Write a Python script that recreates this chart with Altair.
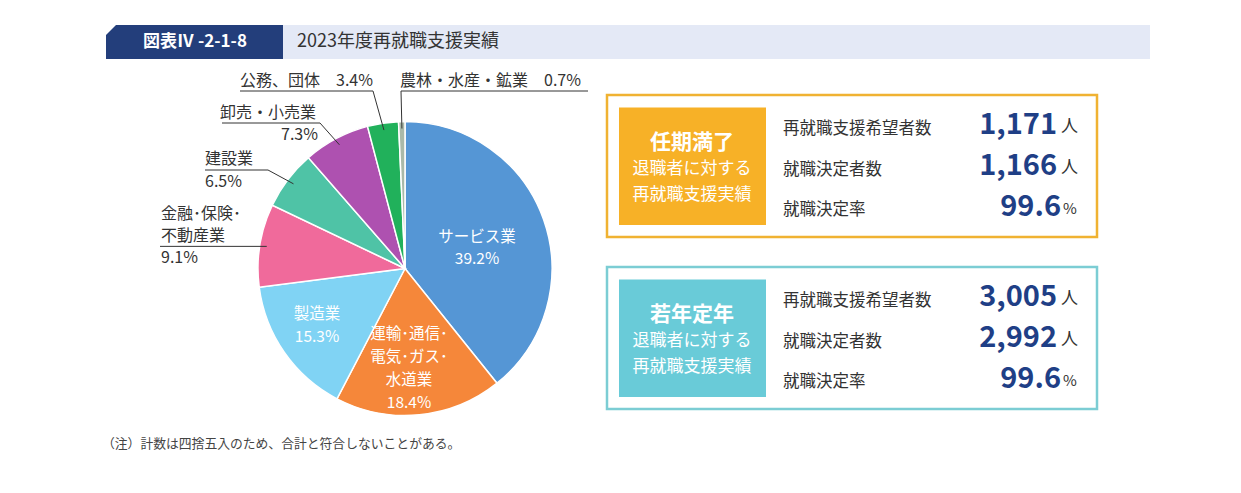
import math
import pandas as pd
import altair as alt

# --- data ---
categories = ["サービス業", "運輸・通信・電気・ガス・水道業", "製造業", "金融・保険・不動産業",
              "建設業", "卸売・小売業", "公務、団体", "農林・水産・鉱業"]
shares = [39.2, 18.4, 15.3, 9.1, 6.5, 7.3, 3.4, 0.7]
slice_colors = ["#5596d5", "#f5873a", "#80d3f4", "#f06a9b", "#4fc3a6", "#ae51b0", "#21b15b", "#a9b9a9"]

groups = ["任期満了", "若年定年"]
group_sub = ["退職者に対する", "再就職支援実績"]
row_labels = ["再就職支援希望者数", "就職決定者数", "就職決定率"]
applicants = [1171, 3005]
placed = [1166, 2992]
rates = [99.6, 99.6]
box_colors = ["#f7b127", "#69cbd8"]
box_borders = ["#f0b232", "#7ccdd4"]

note = "（注）計数は四捨五入のため、合計と符合しないことがある。"
fig_no = "図表Ⅳ -2-1-8"
title = "2023年度再就職支援実績"

# --- layout ---
W, H, M = 1225, 477, 8
CX, CY, R = 405, 268.5, 147
FONT = "Noto Sans CJK JP"
DARK = "#333333"
NAVY = "#1f3f86"

xs = alt.Scale(domain=[M, M + W], range=[0, W])
ys = alt.Scale(domain=[M, M + H], range=[0, H])

slices = pd.DataFrame({"cat": categories, "share": shares,
                       "idx": range(len(categories)), "color": slice_colors})

# anchor points for leader lines, at the middle angle of each slice
total = sum(shares)
anchors = {}
cum = 0
for c, v in zip(categories, shares):
    a = 2 * math.pi * (cum + v / 2) / total
    anchors[c] = (CX + 140 * math.sin(a), CY - 140 * math.cos(a))
    cum += v

# underline x0, x1, y, knee x
fin = anchors["金融・保険・不動産業"]
underlines = {
    "公務、団体": (240, 373, 91, 373),
    "農林・水産・鉱業": (401, 588, 91, 401),
    "卸売・小売業": (222, 320, 123, 320),
    "建設業": (205, 268, 170, 268),
    "金融・保険・不動産業": (160, fin[0], fin[1], fin[0]),
}
segs = []
for c, (x0, x1, y, kx) in underlines.items():
    ax, ay = anchors[c]
    segs.append({"x": x0, "y": y, "x2": x1, "y2": y})
    segs.append({"x": kx, "y": y, "x2": ax, "y2": ay})
segs = pd.DataFrame(segs)

rects = [
    {"x": 106, "x2": 283, "y": 25, "y2": 59, "fill": "#233e7b", "stroke": "#233e7b", "sw": 0},
    {"x": 283, "x2": 1150, "y": 25, "y2": 59, "fill": "#e4e9f6", "stroke": "#e4e9f6", "sw": 0},
]
box_tops = [95, 267]
for i in range(2):
    t = box_tops[i]
    rects.append({"x": 607, "x2": 1097, "y": t, "y2": t + 142, "fill": "white",
                  "stroke": box_borders[i], "sw": 2.5})
    rects.append({"x": 619, "x2": 766, "y": t + 12.5, "y2": t + 130, "fill": box_colors[i],
                  "stroke": box_colors[i], "sw": 0})
rects = pd.DataFrame(rects)

# texts: x, y, text, size, color, align, weight
OUT = 16
texts = [
    (195, 42, fig_no, 17, "white", "center", "bold"),
    (297, 42, title, 18, DARK, "left", "normal"),
    (240, 81, f"{categories[6]}　{shares[6]}%", OUT, DARK, "left", "normal"),
    (400, 81, f"{categories[7]}　{shares[7]}%", OUT, DARK, "left", "normal"),
    (220, 113, categories[5], OUT, DARK, "left", "normal"),
    (318, 135, f"{shares[5]}%", OUT, DARK, "right", "normal"),
    (205, 159, categories[4], OUT, DARK, "left", "normal"),
    (205, 182, f"{shares[4]}%", OUT, DARK, "left", "normal"),
    (161, 214, "金融･保険･", OUT, DARK, "left", "normal"),
    (161, 236, "不動産業", OUT, DARK, "left", "normal"),
    (161, 258, f"{shares[3]}%", OUT, DARK, "left", "normal"),
    (477, 237, categories[0], 15.5, "white", "center", "normal"),
    (477, 259, f"{shares[0]}%", 15.5, "white", "center", "normal"),
    (317, 314, categories[2], 15.5, "white", "center", "normal"),
    (317, 337, f"{shares[2]}%", 15.5, "white", "center", "normal"),
    (409, 334, "運輸･通信･", 15.5, "white", "center", "normal"),
    (409, 357, "電気･ガス･", 15.5, "white", "center", "normal"),
    (409, 380, "水道業", 15.5, "white", "center", "normal"),
    (409, 403, f"{shares[1]}%", 15.5, "white", "center", "normal"),
    (102, 444, note, 12.8, "#444444", "left", "normal"),
]
for i in range(2):
    t = box_tops[i]
    texts.append((692, t + 47.5, groups[i], 21, "white", "center", "bold"))
    texts.append((692, t + 74, group_sub[0], 17, "white", "center", "normal"))
    texts.append((692, t + 99.5, group_sub[1], 17, "white", "center", "normal"))
    for j, lab in enumerate(row_labels):
        texts.append((783, t + [34, 75, 115][j], lab, 16.5, DARK, "left", "normal"))
    texts.append((1057, t + 30, f"{applicants[i]:,}", 29, NAVY, "right", "bold"))
    texts.append((1061, t + 32, "人", 17, DARK, "left", "normal"))
    texts.append((1057, t + 71, f"{placed[i]:,}", 29, NAVY, "right", "bold"))
    texts.append((1061, t + 73, "人", 17, DARK, "left", "normal"))
    texts.append((1061, t + 112, f"{rates[i]}", 29, NAVY, "right", "bold"))
    texts.append((1063, t + 114, "%", 15, DARK, "left", "normal"))
texts = pd.DataFrame(texts, columns=["x", "y", "text", "size", "color", "align", "weight"])

# --- chart ---
rect_layer = alt.Chart(rects).mark_rect().encode(
    x=alt.X("x:Q", scale=xs, axis=None), x2="x2:Q",
    y=alt.Y("y:Q", scale=ys, axis=None), y2="y2:Q",
    fill=alt.Fill("fill:N", scale=None),
    stroke=alt.Stroke("stroke:N", scale=None),
    strokeWidth=alt.StrokeWidth("sw:Q", scale=None),
)

chamfer = alt.Chart(pd.DataFrame({"k": [0]})).mark_point(
    shape="M-1,-1L1,-1L-1,1Z", size=100, filled=True, color="white", opacity=1
).encode(x=alt.value(106 + 5 - M), y=alt.value(25 + 5 - M))

pie = alt.Chart(slices).mark_arc(outerRadius=R, stroke="white", strokeWidth=1.5).encode(
    theta=alt.Theta("share:Q", stack=True),
    order=alt.Order("idx:Q"),
    color=alt.Color("color:N", scale=None),
    x=alt.value(CX - M), y=alt.value(CY - M),
)

rules = alt.Chart(segs).mark_rule(color="#333333", strokeWidth=1).encode(
    x=alt.X("x:Q", scale=xs, axis=None), x2="x2:Q",
    y=alt.Y("y:Q", scale=ys, axis=None), y2="y2:Q",
)

text_layers = []
for (al, wt), sub in texts.groupby(["align", "weight"]):
    text_layers.append(
        alt.Chart(sub).mark_text(align=al, fontWeight=wt, baseline="middle", font=FONT).encode(
            x=alt.X("x:Q", scale=xs, axis=None),
            y=alt.Y("y:Q", scale=ys, axis=None),
            text="text:N",
            size=alt.Size("size:Q", scale=None),
            color=alt.Color("color:N", scale=None),
        )
    )

chart = alt.layer(rect_layer, chamfer, pie, rules, *text_layers).properties(
    width=W, height=H, autosize=alt.AutoSizeParams(type="none"), padding=0
).configure_view(stroke=None)

chart.save("out.html", embed_options={"renderer": "svg", "actions": False})
